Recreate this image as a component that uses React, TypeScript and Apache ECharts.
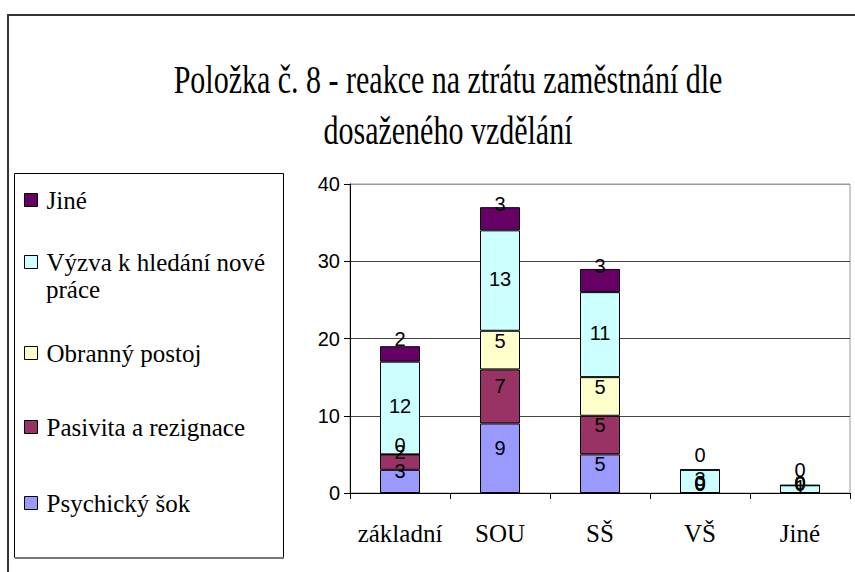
import React, { useEffect, useRef } from "react";
import * as echarts from "echarts";

const categories = ["základní", "SOU", "SŠ", "VŠ", "Jiné"];
const seriesNames = [
  "Psychický šok",
  "Pasivita a rezignace",
  "Obranný postoj",
  "Výzva k hledání nové práce",
  "Jiné",
];
const psychickySok = [3, 9, 5, 0, 0];
const pasivita = [2, 7, 5, 0, 0];
const obranny = [0, 5, 5, 0, 0];
const vyzva = [12, 13, 11, 3, 1];
const jine = [2, 3, 3, 0, 0];
const yTicks = [0, 10, 20, 30, 40];
const titleLines = [
  "Položka č. 8 - reakce na ztrátu zaměstnání dle",
  "dosaženého vzdělání",
];

const seriesValues = [psychickySok, pasivita, obranny, vyzva, jine];
const seriesColors = ["#9999FF", "#993366", "#FFFFCC", "#CCFFFF", "#660066"];
const labelNudge = [-10, -10, -9, -2, -15];
// legend order top-to-bottom and centres
const legendOrder = [4, 3, 2, 1, 0];
const legendCenters = [200, 262, 353, 427, 503];

export default function App() {
  const ref = useRef<HTMLDivElement>(null);
  useEffect(() => {
    if (!ref.current) return;
    const chart = echarts.init(ref.current, undefined, { renderer: "svg" });
    const serif = "Liberation Serif, Tinos, Times New Roman, Times, serif";
    const sans = "Liberation Sans, Arial, sans-serif";

    const legends = legendOrder.map((si, i) => ({
      data: [seriesNames[si]],
      orient: "vertical",
      left: 24,
      top: legendCenters[i] - 13,
      padding: 0,
      itemWidth: 13,
      itemHeight: 13,
      itemGap: 0,
      icon: "rect",
      selectedMode: false,
      formatter: (n: string) =>
        n === "Výzva k hledání nové práce" ? "Výzva k hledání nové" : n,
      itemStyle: { borderColor: "#000", borderWidth: 1 },
      textStyle: {
        fontFamily: serif,
        fontSize: 25,
        color: "#000",
        lineHeight: 26,
        padding: [0, 0, 0, 4],
      },
    }));

    chart.setOption({
      animation: false,
      backgroundColor: "#fff",
      graphic: [
        {
          type: "rect",
          shape: { x: 8, y: 15, width: 1000, height: 1000 },
          style: { fill: "none", stroke: "#333", lineWidth: 2 },
          silent: true,
        },
        {
          type: "rect",
          shape: { x: 14.5, y: 173.5, width: 269, height: 384 },
          style: { fill: "none", stroke: "#000", lineWidth: 1 },
          silent: true,
        },
        {
          type: "line",
          shape: { x1: 15, y1: 558, x2: 284, y2: 558 },
          style: { stroke: "#777", lineWidth: 2 },
          silent: true,
        },
        {
          type: "text",
          x: 448,
          y: 79,
          scaleX: 0.75,
          style: {
            text: titleLines[0],
            fontFamily: serif,
            fontSize: 40,
            fill: "#000",
            textAlign: "center",
            textVerticalAlign: "middle",
          },
        },
        {
          type: "text",
          x: 448,
          y: 130,
          scaleX: 0.75,
          style: {
            text: titleLines[1],
            fontFamily: serif,
            fontSize: 40,
            fill: "#000",
            textAlign: "center",
            textVerticalAlign: "middle",
          },
        },
        {
          type: "text",
          x: 46,
          y: 289,
          style: {
            text: "práce",
            fontFamily: serif,
            fontSize: 25,
            fill: "#000",
            textAlign: "left",
            textVerticalAlign: "middle",
          },
        },
      ],
      legend: legends,
      grid: {
        left: 350,
        right: 5,
        top: 184,
        bottom: 79,
        show: true,
        borderColor: "#999",
        borderWidth: 1,
      },
      xAxis: {
        type: "category",
        data: categories,
        axisLine: { show: true, lineStyle: { color: "#000", width: 1 } },
        axisTick: { show: true, length: 6, lineStyle: { color: "#000" } },
        axisLabel: {
          interval: 0,
          fontFamily: serif,
          fontSize: 25,
          color: "#000",
          margin: 28,
        },
      },
      yAxis: {
        type: "value",
        min: yTicks[0],
        max: yTicks[yTicks.length - 1],
        interval: yTicks[1] - yTicks[0],
        axisLine: { show: true, lineStyle: { color: "#000", width: 1 } },
        axisTick: { show: true, length: 6, lineStyle: { color: "#000" } },
        axisLabel: {
          fontFamily: sans,
          fontSize: 20,
          color: "#000",
          margin: 10,
        },
        splitLine: {
          show: true,
          lineStyle: { color: ["#444", "#444", "#444", "#444", "#999"], width: 1 },
        },
      },
      series: seriesNames.map((name, i) => ({
        name,
        type: "bar",
        stack: "total",
        barWidth: 40,
        data: seriesValues[i],
        itemStyle: {
          color: seriesColors[i],
          borderColor: "#000",
          borderWidth: 1,
        },
        label: {
          show: true,
          position: "inside",
          color: "#000",
          fontFamily: sans,
          fontSize: 20,
          offset: [0, labelNudge[i]],
        },
      })),
    });
    return () => chart.dispose();
  }, []);
  return (
    <div
      ref={ref}
      style={{ position: "absolute", left: 0, top: 0, width: 855, height: 572 }}
    />
  );
}
